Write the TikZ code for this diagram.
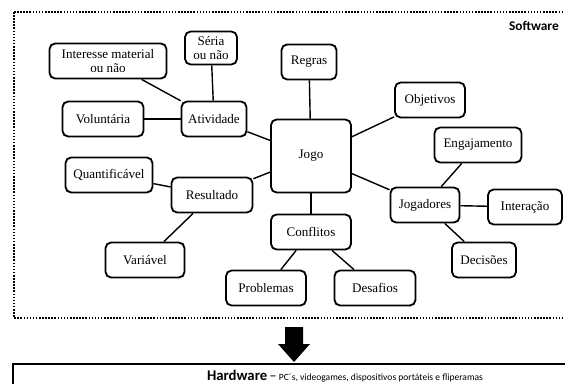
\documentclass[tikz,border=0pt]{standalone}
\usepackage{fontspec}
\setmainfont{Liberation Serif}
\newfontfamily\calib{Carlito}
\usetikzlibrary{positioning}

\begin{document}
\begin{tikzpicture}[x=0.025cm, y=-0.025cm, thick, font=\fontsize{9.3}{10.3}\selectfont]
\tikzset{box/.style={draw, line width=1.3pt, rounded corners=4pt, fill=white, minimum height=0.875cm, align=center, inner sep=2pt}, link/.style={line width=1pt}, frame/.style={line width=1.3pt, dash pattern=on 1.1pt off 1.1pt}}
\useasboundingbox (0,0) rectangle (565,383);
\clip (0,0) rectangle (565,383);
% software frame and hardware box
\draw[frame] (14,12) rectangle (575,318);
\draw[line width=1pt] (13,364) rectangle (575,395);
\node[anchor=east, font=\calib\bfseries\fontsize{9.5}{11}\selectfont] (SW) at (564,26) {Software};
\node[font=\calib\fontsize{6.8}{8}\selectfont] (HW) at (345,376) {{\fontsize{10.5}{12}\selectfont\bfseries Hardware} {\fontsize{10.5}{12}\selectfont –} PC´s, videogames, dispositivos portáteis e fliperamas};
\fill (285,327) -- (303,327) -- (303,344) -- (310,344) -- (294,362) -- (278,344) -- (285,344) -- cycle;
% nodes
\node[box, minimum width=2cm, minimum height=1.825cm] (J) at (311,156) {Jogo};
\node[box, minimum width=1.625cm] (A) at (214,119) {Atividade};
\node[box, minimum width=2.925cm] (A1) at (108,61) {Interesse material\\ou não};
\node[box, minimum width=1.3cm, minimum height=0.825cm] (A2) at (211,48) {Séria\\ou não};
\node[box, minimum width=2.025cm] (A3) at (103,119) {Voluntária};
\node[box, minimum width=1.375cm] (R) at (309,62) {Regras};
\node[box, minimum width=1.75cm] (O) at (430,100) {Objetivos};
\node[box, minimum width=2.025cm] (Re) at (212,195) {Resultado};
\node[box, minimum width=2.175cm] (Re1) at (109,175) {Quantificável};
\node[box, minimum width=1.975cm] (Re2) at (145,260) {Variável};
\node[box, minimum width=1.725cm] (P) at (425,205) {Jogadores};
\node[box, minimum width=2.175cm] (P1) at (478,145) {Engajamento};
\node[box, minimum width=1.85cm] (P2) at (525,207) {Interação};
\node[box, minimum width=1.6cm] (P3) at (484,260) {Decisões};
\node[box, minimum width=2cm] (C) at (311,232) {Conflitos};
\node[box, minimum width=2cm] (C1) at (266,288) {Problemas};
\node[box, minimum width=2.025cm] (C2) at (375,288) {Desafios};
% links
\draw[link] (J) -- (A); \draw[link] (J) -- (R); \draw[link] (J) -- (O);
\draw[link] (J) -- (Re); \draw[link] (J) -- (P); \draw[link] (J) -- (C);
\draw[link] (A) -- (A1); \draw[link] (A) -- (A2); \draw[link] (A) -- (A3);
\draw[link] (Re) -- (Re1); \draw[link] (Re) -- (Re2);
\draw[link] (P) -- (P1); \draw[link] (P) -- (P2); \draw[link] (P) -- (P3);
\draw[link] (C) -- (C1); \draw[link] (C) -- (C2);
\end{tikzpicture}
\end{document}
